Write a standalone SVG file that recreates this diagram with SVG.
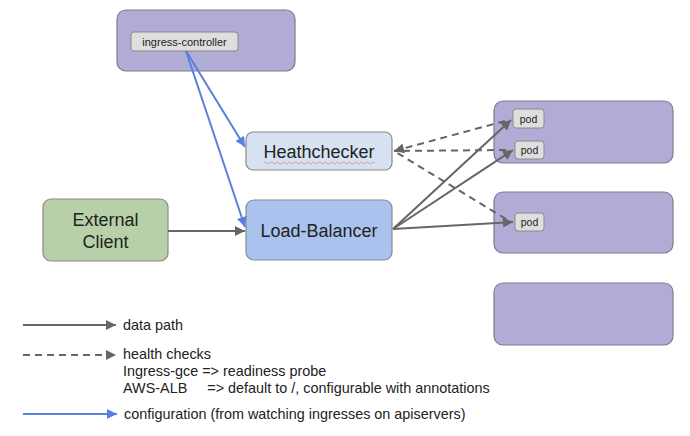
<svg xmlns="http://www.w3.org/2000/svg" width="690" height="436" viewBox="0 0 690 436">
<defs>
<style>
.grp{fill:#b0acd6;stroke:#7d7b8e;stroke-width:1.2}
.chip{fill:#dedede;stroke:#8a8a8a;stroke-width:1}
.t{font-family:"Liberation Sans",Arial,sans-serif;fill:#222}
.lbl{font-size:18px;text-anchor:middle}
.leg{font-size:14.4px;white-space:pre}
.solid{stroke:#666;stroke-width:2;fill:none}
.dash{stroke:#666;stroke-width:2;fill:none;stroke-dasharray:7 5}
.blue{stroke:#5a7fdc;stroke-width:2;fill:none}
</style>
<marker id="ag" viewBox="0 0 10 10" refX="10" refY="5" markerWidth="11" markerHeight="10" markerUnits="userSpaceOnUse" orient="auto"><path d="M0,0L10,5L0,10z" fill="#666"/></marker>
<marker id="ab" viewBox="0 0 10 10" refX="10" refY="5" markerWidth="11" markerHeight="10" markerUnits="userSpaceOnUse" orient="auto"><path d="M0,0L10,5L0,10z" fill="#5a7fdc"/></marker>
</defs>
<rect width="690" height="436" fill="#fff"/>

<g id="ingress-group">
<rect class="grp" x="117" y="10" width="178" height="61" rx="9"/>
</g>
<g id="ingress-controller">
<rect class="chip" x="131" y="32" width="107" height="19" rx="3"/>
<text class="t" x="184.5" y="45.5" font-size="11" text-anchor="middle">ingress-controller</text>
</g>

<g id="node-group-1">
<rect class="grp" x="494" y="101" width="179" height="62" rx="9"/>
</g>
<g id="node-group-2">
<rect class="grp" x="494" y="192" width="179" height="61" rx="9"/>
</g>
<g id="node-group-3">
<rect class="grp" x="494" y="283" width="179" height="62" rx="9"/>
</g>
<g id="pod-1">
<rect class="chip" x="513" y="109" width="31" height="19" rx="3"/>
<text class="t" x="528.5" y="122.5" font-size="10.5" text-anchor="middle">pod</text>
</g>
<g id="pod-2">
<rect class="chip" x="515" y="141" width="29" height="18" rx="3"/>
<text class="t" x="529.5" y="154" font-size="10.5" text-anchor="middle">pod</text>
</g>
<g id="pod-3">
<rect class="chip" x="515" y="213" width="29" height="18" rx="3"/>
<text class="t" x="529.5" y="226" font-size="10.5" text-anchor="middle">pod</text>
</g>

<g id="healthchecker">
<rect x="246" y="132" width="146" height="38" rx="7" fill="#d6e1f1" stroke="#8a8a8a" stroke-width="1.2"/>
<text class="t lbl" x="319" y="158">Heathchecker</text>
<path d="M264,163 q1.5,-2 3,0 t3,0 t3,0 t3,0 t3,0 t3,0 t3,0 t3,0 t3,0 t3,0 t3,0 t3,0 t3,0 t3,0 t3,0 t3,0 t3,0 t3,0 t3,0 t3,0 t3,0 t3,0 t3,0 t3,0 t3,0 t3,0 t3,0 t3,0 t3,0 t3,0 t3,0 t3,0 t3,0 t3,0 t3,0 t3,0 t3,0" fill="none" stroke="#e08a8a" stroke-width="0.8"/>
</g>
<g id="load-balancer">
<rect x="246" y="200" width="146" height="60" rx="8" fill="#a9c2ee" stroke="#8a8a8a" stroke-width="1.2"/>
<text class="t lbl" x="319" y="237">Load-Balancer</text>
</g>
<g id="external-client">
<rect x="43" y="199" width="125" height="62" rx="8" fill="#b7d0a8" stroke="#8a8a8a" stroke-width="1.2"/>
<text class="t lbl" x="105.5" y="226">External</text>
<text class="t lbl" x="105.5" y="248">Client</text>
</g>

<g id="connectors">
<line class="solid" x1="168" y1="231" x2="245" y2="231" marker-end="url(#ag)"/>
<line class="blue" x1="186" y1="51" x2="245" y2="147" marker-end="url(#ab)"/>
<line class="blue" x1="186" y1="51" x2="245" y2="227" marker-end="url(#ab)"/>
<line class="solid" x1="393" y1="229" x2="511" y2="120" marker-end="url(#ag)"/>
<line class="solid" x1="393" y1="229" x2="513" y2="150" marker-end="url(#ag)"/>
<line class="solid" x1="393" y1="229" x2="513" y2="222" marker-end="url(#ag)"/>
<line class="dash" x1="505" y1="121" x2="394" y2="151" marker-end="url(#ag)"/>
<line class="dash" x1="506" y1="150" x2="394" y2="151"/>
<line class="dash" x1="506" y1="219" x2="394" y2="151"/>
</g>

<g id="legend">
<line class="solid" x1="23" y1="325" x2="116" y2="325" marker-end="url(#ag)"/>
<text class="t leg" x="123" y="330">data path</text>
<line class="dash" x1="23" y1="355" x2="116" y2="355" marker-end="url(#ag)"/>
<text class="t leg" x="123" y="359">health checks</text>
<text class="t leg" x="123" y="376">Ingress-gce =&gt; readiness probe</text>
<text class="t leg" x="123" y="393">AWS-ALB     =&gt; default to /, configurable with annotations</text>
<line class="blue" x1="23" y1="414" x2="117" y2="414" marker-end="url(#ab)"/>
<text class="t leg" x="124" y="419">configuration (from watching ingresses on apiservers)</text>
</g>
</svg>
